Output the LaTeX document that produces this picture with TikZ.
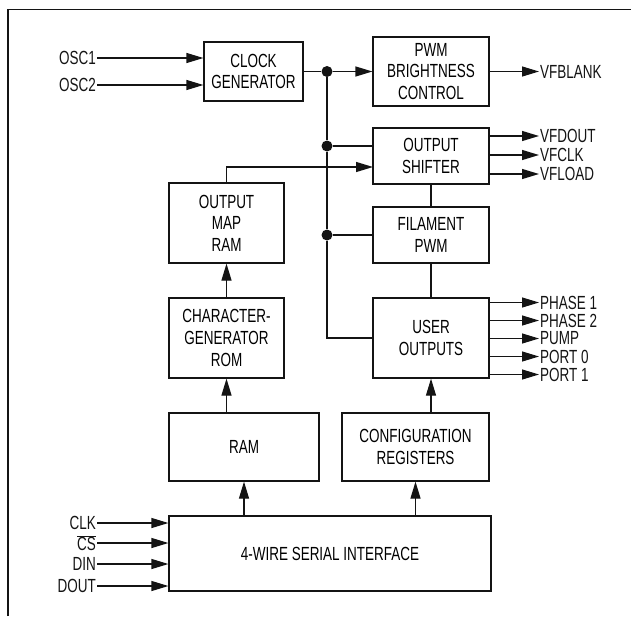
\documentclass[tikz,border=0pt]{standalone}
\usepackage{fontspec}
\setmainfont{Liberation Sans}[FakeStretch=0.71]
\usetikzlibrary{arrows.meta}
\definecolor{blkcolor0000}{RGB}{20,20,20}

\begin{document}
\begin{tikzpicture}[yscale=-1
,bstyle/.style={draw=blkcolor0000,line width=1.2pt,inner sep=0pt,align=center,font=\fontsize{19}{21.6}\selectfont}
,lstyle/.style={inner sep=1pt,text=blkcolor0000,font=\fontsize{19}{21.6}\selectfont}
,wstyle/.style={color=blkcolor0000,line width=1.2pt}
,astyle/.style={wstyle,-{Triangle[length=17pt,width=10pt]}}
,rstyle/.style={wstyle,{Triangle[length=17pt,width=10pt]}-}
,dstyle/.style={circle,fill=blkcolor0000,inner sep=0pt,minimum size=11pt}
,fstyle/.style={color=blkcolor0000,line width=1.8pt}
]
\useasboundingbox (0pt,0pt) rectangle (631pt,616pt);
\draw[fstyle] (8pt,616pt) -- (8pt,9.5pt) -- (631pt,9.5pt);
% blocks
\node[bstyle,minimum width=99pt,minimum height=59pt] (clk) at (253.5pt,71.5pt) {CLOCK\\GENERATOR};
\node[bstyle,minimum width=116pt,minimum height=69pt] (pwm) at (431pt,71.5pt) {PWM\\BRIGHTNESS\\CONTROL};
\node[bstyle,minimum width=116pt,minimum height=56pt] (shift) at (431pt,156pt) {OUTPUT\\SHIFTER};
\node[bstyle,minimum width=116pt,minimum height=56pt] (fil) at (431pt,235pt) {FILAMENT\\PWM};
\node[bstyle,minimum width=116pt,minimum height=80pt] (user) at (431pt,338pt) {USER\\OUTPUTS};
\node[bstyle,minimum width=115pt,minimum height=80pt] (omap) at (226.5pt,223pt) {OUTPUT\\MAP\\RAM};
\node[bstyle,minimum width=115pt,minimum height=80pt] (cgrom) at (226.5pt,338pt) {CHARACTER-\\GENERATOR\\ROM};
\node[bstyle,minimum width=150pt,minimum height=68pt] (ram) at (244pt,447pt) {RAM};
\node[bstyle,minimum width=147pt,minimum height=68pt] (cfg) at (415.5pt,447pt) {CONFIGURATION\\REGISTERS};
\node[bstyle,minimum width=322pt,minimum height=75pt] (ser) at (330pt,553.5pt) {4-WIRE SERIAL INTERFACE};
% clock bus
\node[dstyle] (j1) at (327pt,71.5pt) {};
\node[dstyle] (j2) at (327pt,146pt) {};
\node[dstyle] (j3) at (327pt,235pt) {};
\coordinate (mapin) at (373pt,167pt);
\draw[wstyle] (clk.east) -- (j1);
\draw[astyle] (j1) -- (pwm.west);
\draw[wstyle] (j1) -- (j2) -- (j3) |- (user.west);
\draw[wstyle] (j2) -- (shift.west |- j2);
\draw[wstyle] (j3) -- (fil.west);
\draw[astyle] (omap.north) |- (mapin);
\draw[wstyle] (shift.south) -- (fil.north);
\draw[wstyle] (fil.south) -- (user.north);
\draw[astyle] (cgrom.north) -- (omap.south);
\draw[astyle] (ram.north -| cgrom.south) -- (cgrom.south);
\draw[astyle] (cfg.north -| user.south) -- (user.south);
\draw[astyle] (ser.north -| ram.south) -- (ram.south);
\draw[astyle] (ser.north -| cfg.south) -- (cfg.south);
% inputs
\node[lstyle,anchor=east] (osc1) at (97pt,58pt) {OSC1};
\node[lstyle,anchor=east] (osc2) at (97pt,85pt) {OSC2};
\draw[astyle] (osc1) -- (clk.west |- osc1);
\draw[astyle] (osc2) -- (clk.west |- osc2);
\node[lstyle,anchor=east] (clkin) at (97pt,523pt) {CLK};
\node[lstyle,anchor=east] (csin) at (97pt,543pt) {\(\overline{\mbox{CS}}\)};
\node[lstyle,anchor=east] (din) at (97pt,564pt) {DIN};
\node[lstyle,anchor=east] (dout) at (97pt,586pt) {DOUT};
\draw[astyle] (clkin) -- (ser.west |- clkin);
\draw[astyle] (csin) -- (ser.west |- csin);
\draw[astyle] (din) -- (ser.west |- din);
\draw[rstyle] (ser.west |- dout) -- (dout);
% outputs
\node[lstyle,anchor=west] (vfblank) at (539pt,71.5pt) {VFBLANK};
\draw[astyle] (pwm.east) -- (vfblank);
\node[lstyle,anchor=west] (vfdout) at (539pt,136pt) {VFDOUT};
\node[lstyle,anchor=west] (vfclk) at (539pt,155pt) {VFCLK};
\node[lstyle,anchor=west] (vfload) at (539pt,174pt) {VFLOAD};
\draw[astyle] (shift.east |- vfdout) -- (vfdout);
\draw[astyle] (shift.east |- vfclk) -- (vfclk);
\draw[astyle] (shift.east |- vfload) -- (vfload);
\node[lstyle,anchor=west] (ph1) at (539pt,302.5pt) {PHASE 1};
\node[lstyle,anchor=west] (ph2) at (539pt,320.5pt) {PHASE 2};
\node[lstyle,anchor=west] (pump) at (539pt,338.5pt) {PUMP};
\node[lstyle,anchor=west] (port0) at (539pt,356.5pt) {PORT 0};
\node[lstyle,anchor=west] (port1) at (539pt,374.5pt) {PORT 1};
\draw[astyle] (user.east |- ph1) -- (ph1);
\draw[astyle] (user.east |- ph2) -- (ph2);
\draw[astyle] (user.east |- pump) -- (pump);
\draw[astyle] (user.east |- port0) -- (port0);
\draw[astyle] (user.east |- port1) -- (port1);
\end{tikzpicture}
\end{document}
